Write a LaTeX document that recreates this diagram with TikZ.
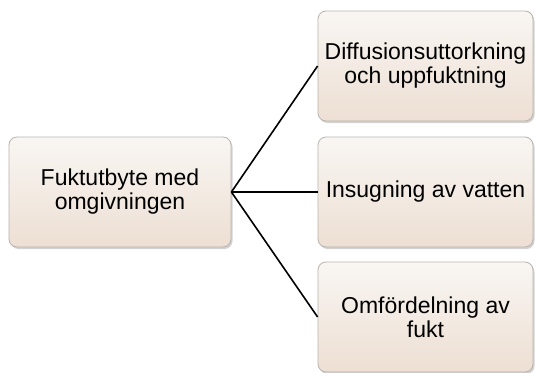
\documentclass[tikz,border=0pt]{standalone}
\usepackage{fontspec}
\setmainfont{Liberation Sans}
\usetikzlibrary{shadows}

\definecolor{boxtop}{HTML}{F9F6F3}
\definecolor{boxbot}{HTML}{EDDFD3}
\definecolor{boxline}{HTML}{B9B3AD}

\begin{document}
\begin{tikzpicture}[x=1pt,y=-1pt,
  topic/.style={draw=boxline, line width=0.8pt, rounded corners=8pt,
    top color=boxtop, bottom color=boxbot, align=center,
    inner sep=0pt, font=\fontsize{23}{24}\selectfont,
    drop shadow={opacity=0.35, shadow xshift=1.5pt, shadow yshift=-2pt}},
  link/.style={line width=1.6pt, black}]
\useasboundingbox (0,0) rectangle (535,372);

% Boxes
\node[topic, minimum width=222pt, minimum height=110pt] (fukt) at (120,192) {Fuktutbyte med\\omgivningen};
\node[topic, minimum width=215pt, minimum height=110pt] (diff) at (425.5,66) {Diffusionsuttorkning\\och uppfuktning};
\node[topic, minimum width=215pt, minimum height=110pt] (insug) at (425.5,192) {Insugning av vatten};
\node[topic, minimum width=215pt, minimum height=110pt] (omf) at (425.5,317) {Omfördelning av\\fukt};

% Links
\draw[link] (fukt.east) -- (diff.west);
\draw[link] (fukt.east) -- (insug.west);
\draw[link] (fukt.east) -- (omf.west);
\end{tikzpicture}
\end{document}
